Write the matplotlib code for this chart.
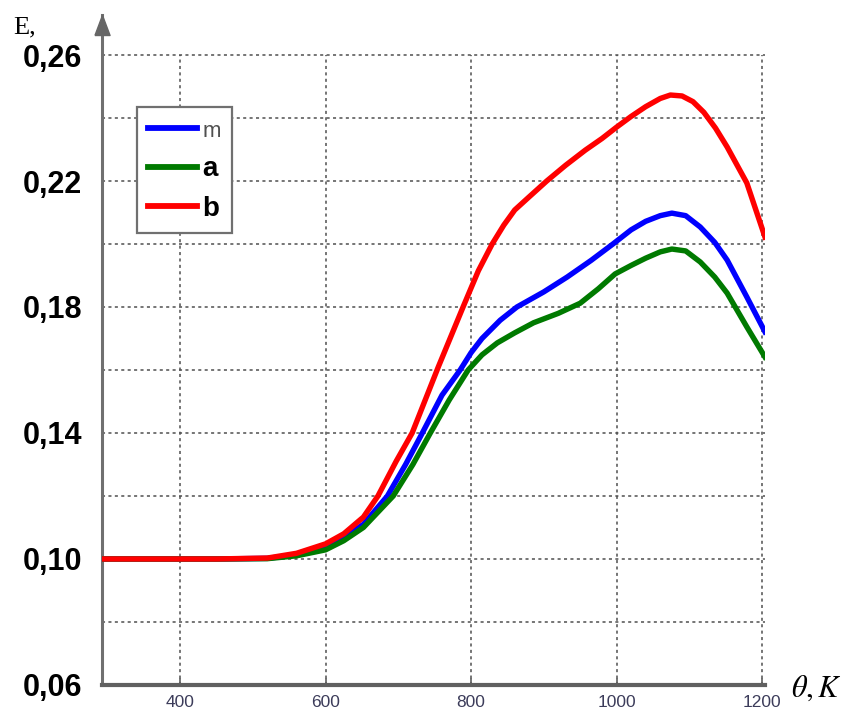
import matplotlib
matplotlib.use('Agg')
import matplotlib.pyplot as plt

# data
theta_m = [292, 450, 520, 560, 600, 625, 652, 685, 710, 733, 760, 785, 800, 815, 840,
           863, 900, 932, 965, 995, 1020, 1040, 1060, 1076, 1095, 1115, 1135, 1152,
           1179, 1204]
e_m = [0.100, 0.100, 0.1002, 0.1013, 0.1040, 0.1068, 0.1110, 0.1200, 0.1300, 0.1400,
       0.1520, 0.1600, 0.1655, 0.1700, 0.1758, 0.1800, 0.1848, 0.1895, 0.1948, 0.2000,
       0.2045, 0.2072, 0.2090, 0.2098, 0.2090, 0.2054, 0.2005, 0.1949, 0.1832, 0.1721]

theta_a = [292, 450, 520, 560, 600, 625, 652, 693, 720, 744, 770, 796, 815, 836, 860,
           886, 920, 950, 975, 998, 1020, 1040, 1060, 1076, 1095, 1115, 1135, 1152,
           1179, 1204]
e_a = [0.100, 0.100, 0.1001, 0.1010, 0.1029, 0.1058, 0.1100, 0.1200, 0.1300, 0.1400,
       0.1505, 0.1600, 0.1648, 0.1686, 0.1718, 0.1750, 0.1780, 0.1812, 0.1858, 0.1905,
       0.1932, 0.1955, 0.1975, 0.1984, 0.1978, 0.1943, 0.1895, 0.1844, 0.1737, 0.1641]

theta_b = [292, 450, 520, 560, 600, 625, 652, 672, 697, 719, 737, 755, 772, 789, 810,
           829, 845, 860, 880, 904, 930, 957, 980, 1000, 1020, 1040, 1060, 1074, 1090,
           1105, 1120, 1136, 1152, 1179, 1204]
e_b = [0.100, 0.100, 0.1003, 0.1018, 0.1048, 0.1080, 0.1133, 0.1200, 0.1310, 0.1400,
       0.1505, 0.1610, 0.1705, 0.1800, 0.1915, 0.2000, 0.2060, 0.2108, 0.2150, 0.2200,
       0.2250, 0.2298, 0.2335, 0.2371, 0.2405, 0.2436, 0.2462, 0.2473, 0.2470, 0.2452,
       0.2418, 0.2368, 0.2308, 0.2194, 0.2022]

x_ticks = [400, 600, 800, 1000, 1200]
y_labels = [0.06, 0.10, 0.14, 0.18, 0.22, 0.26]
y_grid = [0.08, 0.10, 0.12, 0.14, 0.16, 0.18, 0.20, 0.22, 0.24, 0.26]

fig = plt.figure(figsize=(8.48, 7.15), dpi=100)
ax = fig.add_axes([0.1197, 0.042, 0.7824, 0.937])
x0, x1 = 292, 1204
y0, y1 = 0.06, 0.2727
ax.set_xlim(x0, x1)
ax.set_ylim(y0, y1)

# dotted grid: horizontal to the right edge, vertical only up to 0.26
gkw = dict(color='#505050', lw=1.1, linestyle=(0, (2, 2.2)), zorder=1)
ax.hlines(y_grid, x0, x1, **gkw)
ax.vlines(x_ticks, y0, 0.26, **gkw)

ax.plot(theta_m, e_m, color='#0000ff', lw=3.9, label='m', zorder=3)
ax.plot(theta_a, e_a, color='#007a00', lw=3.9, label='a', zorder=3)
ax.plot(theta_b, e_b, color='#ff0000', lw=3.9, label='b', zorder=3)

# axes look
for s in ['top', 'right']:
    ax.spines[s].set_visible(False)
ax.spines['left'].set_color('#707070')
ax.spines['left'].set_linewidth(2.2)
ax.spines['bottom'].set_color('#606060')
ax.spines['bottom'].set_linewidth(3.0)
arrow = [(-0.75, 0), (0.75, 0), (0, 2), (-0.75, 0)]
ax.plot([x0], [0.2663], marker=arrow, ms=29, color='#666666', clip_on=False, zorder=5)

ax.set_yticks(y_labels)
ax.set_yticklabels([f'{v:.2f}'.replace('.', ',') for v in y_labels],
                   fontsize=22, fontweight='bold', family=['Liberation Sans', 'DejaVu Sans'])
ax.tick_params(axis='y', length=0, pad=14)

ax.set_xticks(x_ticks)
ax.set_xticklabels([str(v) for v in x_ticks], fontsize=12.5, color='#3c3c5a',
                   family=['Liberation Sans Narrow', 'Liberation Sans', 'DejaVu Sans'])
ax.tick_params(axis='x', direction='in', length=5, width=1.2, color='#606060', pad=7)

plt.rcParams['mathtext.fontset'] = 'stix'
fig.text(0.963, 0.037, r'$\theta, K$', fontsize=22, ha='center', va='center')
fig.text(0.016, 0.953, 'E,', fontsize=19, family=['Liberation Serif', 'DejaVu Serif'],
         ha='left', va='baseline')

leg = ax.legend(loc='upper left', bbox_to_anchor=(0.0535, 0.863), borderaxespad=0,
                fancybox=False, framealpha=1, edgecolor='#707070',
                prop={'family': ['Liberation Sans', 'DejaVu Sans'], 'weight': 'bold', 'size': 20},
                handlelength=1.75, handletextpad=0.2, labelspacing=0.5,
                borderpad=0.4)
leg.get_frame().set_linewidth(1.6)
for line in leg.get_lines():
    line.set_linewidth(4.2)
t_m = leg.get_texts()[0]
t_m.set_fontweight('normal')
t_m.set_fontsize(16)
t_m.set_color('#505050')

fig.savefig('out.png', dpi=100)
